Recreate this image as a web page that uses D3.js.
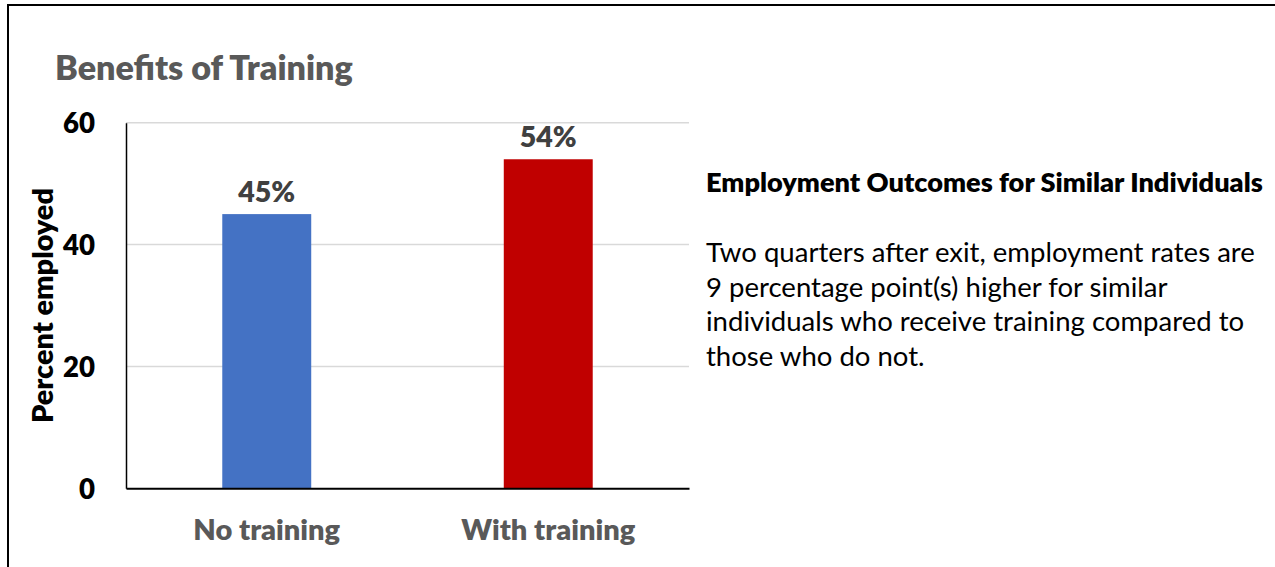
<!DOCTYPE html>
<html>
<head>
<meta charset="utf-8">
<script src="https://cdn.jsdelivr.net/npm/d3@7"></script>
<style>
  html, body { margin: 0; padding: 0; background: #fff; }
  svg { display: block; font-family: Lato, "Open Sans", sans-serif; }
</style>
</head>
<body>
<svg id="chart" width="1275" height="567"></svg>
<script>
// ---- data ----
const categories = ["No training", "With training"];
const values = [45, 54];
const valueLabels = ["45%", "54%"];
const barColors = ["#4472C4", "#C00000"];
const yTicks = [0, 20, 40, 60];
const chartTitle = "Benefits of Training";
const yAxisTitle = "Percent employed";
const sideHeader = "Employment Outcomes for Similar Individuals";
const sideLines = [
  "Two quarters after exit, employment rates are",
  "9 percentage point(s) higher for similar",
  "individuals who receive training compared to",
  "those who do not."
];

const BOLD = 800;
const svg = d3.select("#chart");

// fit font size of a text selection to a target pixel width
function fit(sel, target) {
  sel.attr("font-size", 100);
  const w = sel.node().getComputedTextLength();
  const fs = 100 * target / w;
  sel.attr("font-size", fs.toFixed(2));
  return fs;
}

// frame lines
svg.append("line").attr("x1", 8).attr("x2", 1275).attr("y1", 5).attr("y2", 5)
  .attr("stroke", "#000").attr("stroke-width", 2);
svg.append("line").attr("x1", 8).attr("x2", 8).attr("y1", 4).attr("y2", 567)
  .attr("stroke", "#000").attr("stroke-width", 2);

// plot geometry
const plot = { left: 126, right: 689, top: 122.7, bottom: 488.3 };

const x = d3.scaleBand()
  .domain(categories)
  .range([plot.left, plot.right])
  .paddingInner(0.684)
  .paddingOuter(0.342);

const y = d3.scaleLinear()
  .domain([0, 60])
  .range([plot.bottom, plot.top]);

// title
const t = svg.append("text").attr("x", 55).attr("y", 80)
  .attr("fill", "#595959").attr("font-weight", BOLD).text(chartTitle);
fit(t, 298);

// gridlines
svg.append("g").selectAll("line")
  .data(yTicks.filter(d => d > 0))
  .join("line")
  .attr("x1", plot.left).attr("x2", plot.right)
  .attr("y1", d => y(d)).attr("y2", d => y(d))
  .attr("stroke", "#d9d9d9").attr("stroke-width", 1.5);

// y axis (labels via d3 axis)
const yAxis = svg.append("g")
  .attr("transform", `translate(${plot.left},0)`)
  .call(d3.axisLeft(y).tickValues(yTicks).tickSize(0).tickPadding(31));
yAxis.select(".domain").attr("stroke", "#000").attr("stroke-width", 1.5);
const tickTexts = yAxis.selectAll("text")
  .attr("font-family", "Lato, 'Open Sans', sans-serif")
  .attr("font-weight", BOLD).attr("fill", "#000").attr("dy", "0.36em");
{
  const probe = svg.append("text").attr("font-weight", BOLD).text("60");
  const fs = fit(probe, 32);
  probe.remove();
  tickTexts.attr("font-size", fs.toFixed(2));
}

// bars
svg.append("g").selectAll("rect")
  .data(values)
  .join("rect")
  .attr("x", (d, i) => x(categories[i]))
  .attr("width", x.bandwidth())
  .attr("y", d => y(d))
  .attr("height", d => y(0) - y(d))
  .attr("fill", (d, i) => barColors[i]);

// x axis baseline
const xAxis = svg.append("g")
  .attr("transform", `translate(0,${plot.bottom})`)
  .call(d3.axisBottom(x).tickSize(0).tickPadding(52));
xAxis.select(".domain").attr("stroke", "#000").attr("stroke-width", 2);
const xTexts = xAxis.selectAll("text")
  .attr("font-family", "Lato, 'Open Sans', sans-serif")
  .attr("font-weight", BOLD).attr("fill", "#595959").attr("dy", 0);
{
  const probe = svg.append("text").attr("font-weight", BOLD).text(categories[1]);
  const fs = fit(probe, 174);
  probe.remove();
  xTexts.attr("font-size", fs.toFixed(2));
}

// data labels
const dl = svg.append("g").selectAll("text")
  .data(values)
  .join("text")
  .attr("x", (d, i) => x(categories[i]) + x.bandwidth() / 2)
  .attr("y", d => y(d) - 12)
  .attr("text-anchor", "middle")
  .attr("fill", "#404040").attr("font-weight", BOLD)
  .text((d, i) => valueLabels[i]);
{
  const probe = svg.append("text").attr("font-weight", BOLD).text(valueLabels[0]);
  const fs = fit(probe, 57);
  probe.remove();
  dl.attr("font-size", fs.toFixed(2));
}

// y axis title
const yt = svg.append("text")
  .attr("transform", `translate(53,${(plot.top + plot.bottom) / 2}) rotate(-90)`)
  .attr("text-anchor", "middle").attr("font-weight", BOLD).attr("fill", "#000")
  .text(yAxisTitle);
fit(yt, 235);

// side text
const hdr = svg.append("text").attr("x", 706).attr("y", 192)
  .attr("font-weight", BOLD).attr("fill", "#000").text(sideHeader);
fit(hdr, 557);

const para = svg.append("text").attr("fill", "#000");
para.selectAll("tspan")
  .data(sideLines)
  .join("tspan")
  .attr("x", 706)
  .attr("y", (d, i) => 262 + i * 34.5)
  .text(d => d);
{
  const probe = svg.append("text").text(sideLines[0]);
  const fs = fit(probe, 549);
  probe.remove();
  para.attr("font-size", fs.toFixed(2));
}
</script>
</body>
</html>
